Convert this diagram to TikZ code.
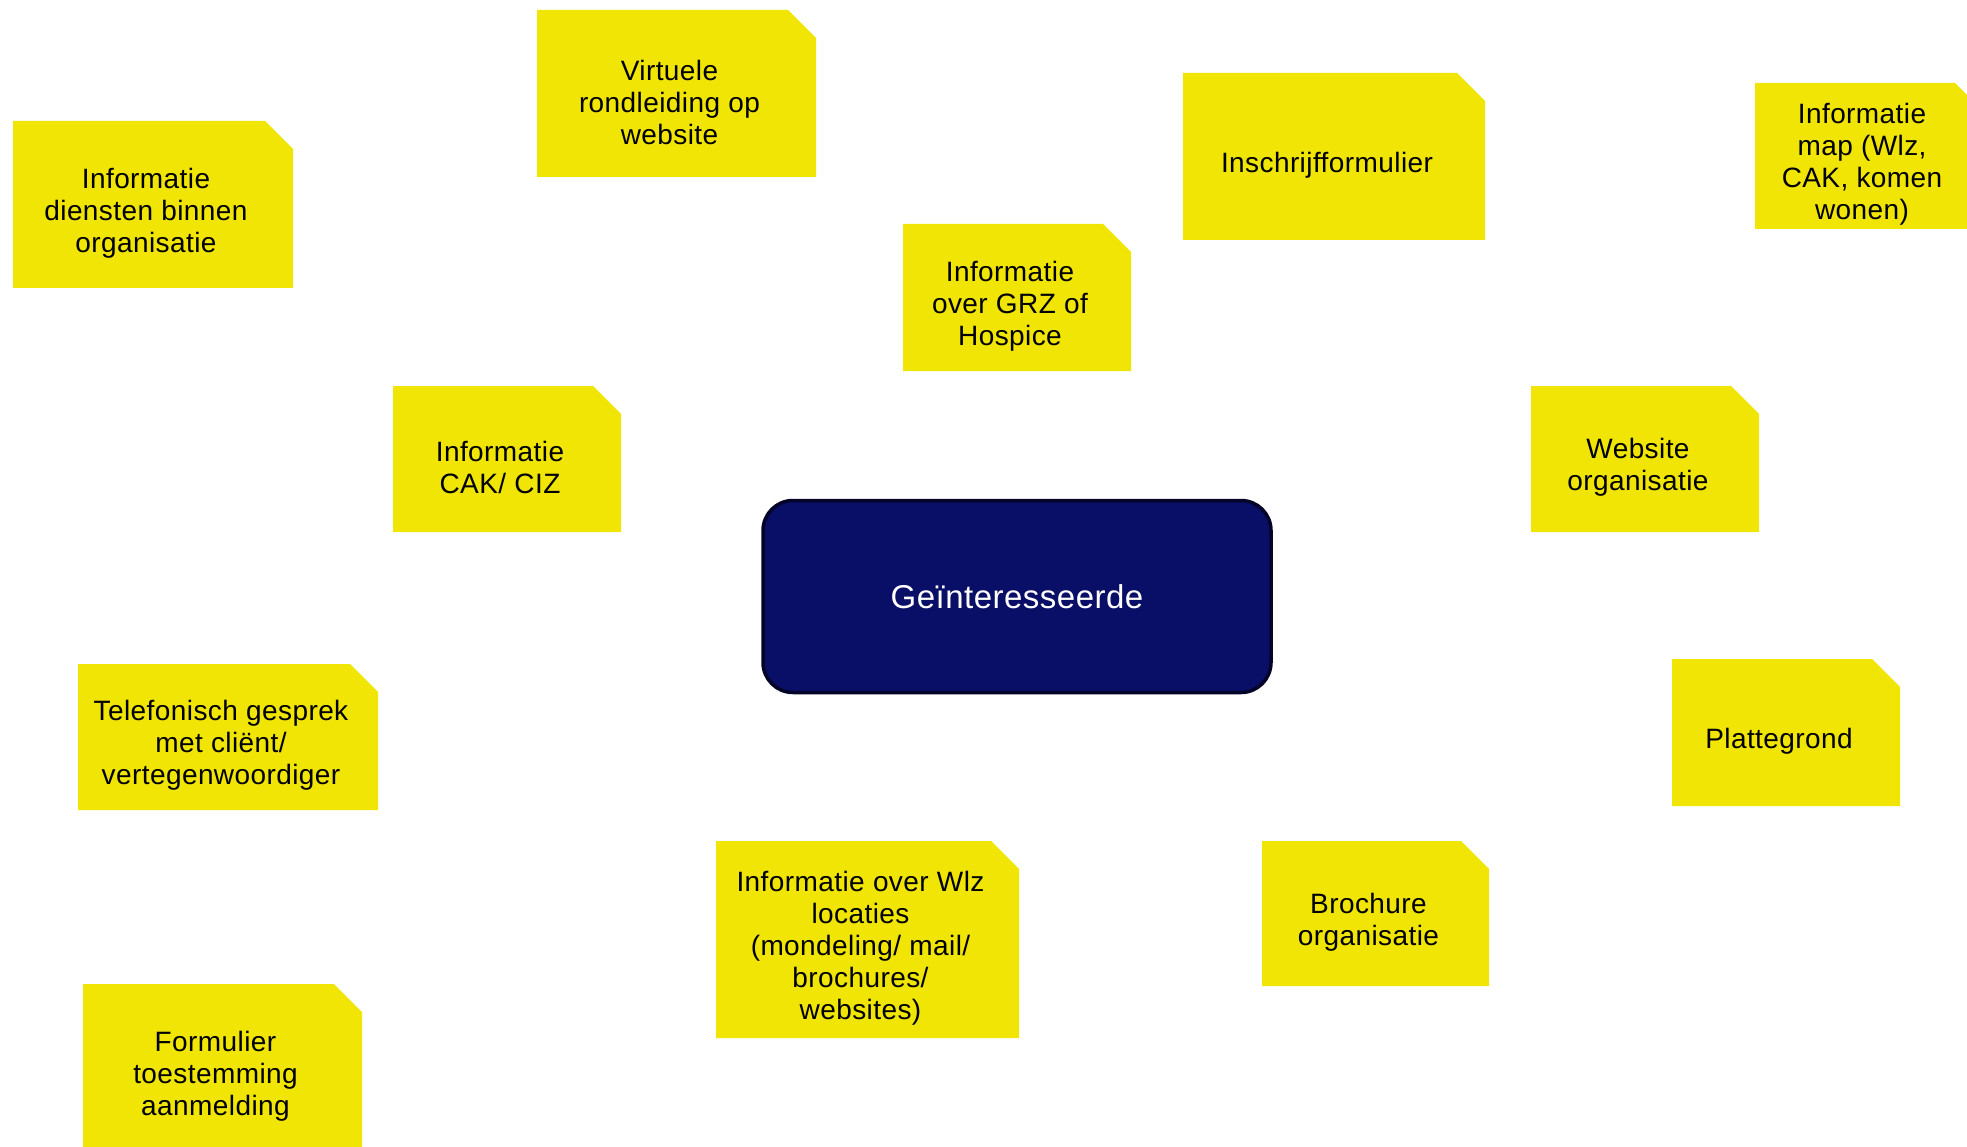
\documentclass[tikz,border=0pt]{standalone}
\usepackage{fontspec}
\setmainfont{Liberation Sans}[LetterSpace=1.5]
\definecolor{yel}{RGB}{240,229,5}
\definecolor{navy}{RGB}{9,14,102}
\definecolor{navyline}{RGB}{4,4,40}
\begin{document}
\begin{tikzpicture}[x=1pt,y=-1pt,
  card/.style 2 args={rectangle, inner sep=0pt,
    minimum width=#1pt, minimum height=#2pt,
    path picture={\fill[yel] (path picture bounding box.south west)
      -- (path picture bounding box.north west)
      -- ([xshift=-28pt]path picture bounding box.north east)
      -- ([yshift=-28pt]path picture bounding box.north east)
      -- (path picture bounding box.south east) -- cycle;}},
  cardtext/.style={align=center, inner sep=0pt, text=black,
    font=\fontsize{28}{32}\selectfont, xshift=-7pt, yshift=-8.5pt},
  hub/.style={rectangle, rounded corners=30pt, fill=navy, draw=navyline,
    line width=3.5pt, text=white, font=\fontsize{33}{38}\selectfont,
    minimum width=508pt, minimum height=192pt}]
\useasboundingbox (0,0) rectangle (1967,1147);
\clip (0,0) rectangle (1967,1147);

\node[hub] (g) at (1017,596.5) {Geïnteresseerde};

\node[card={280}{167}, label={[cardtext]center:{Informatie\\diensten binnen\\organisatie}}]
  (diensten) at (153,204.5) {};
\node[card={279}{167}, label={[cardtext]center:{Virtuele\\rondleiding op\\website}}]
  (virtueel) at (676.5,93.5) {};
\node[card={302}{167}, label={[cardtext]center:{Inschrijfformulier}}]
  (inschrijf) at (1334,156.5) {};
\node[card={228}{146}, label={[cardtext]center:{Informatie\\map (Wlz,\\CAK, komen\\wonen)}}]
  (map) at (1869,156) {};
\node[card={228}{147}, label={[cardtext]center:{Informatie\\over GRZ of\\Hospice}}]
  (grz) at (1017,297.5) {};
\node[card={228}{146}, label={[cardtext]center:{Informatie\\CAK/ CIZ}}]
  (cak) at (507,459) {};
\node[card={228}{146}, label={[cardtext]center:{Website\\organisatie}}]
  (website) at (1645,459) {};
\node[card={300}{146}, label={[cardtext]center:{Telefonisch gesprek\\met cliënt/\\vertegenwoordiger}}]
  (telefoon) at (228,737) {};
\node[card={228}{147}, label={[cardtext]center:{Plattegrond}}]
  (platte) at (1786,732.5) {};
\node[card={303}{197}, label={[cardtext]center:{Informatie over Wlz\\locaties\\(mondeling/ mail/\\brochures/\\websites)}}]
  (wlz) at (867.5,939.5) {};
\node[card={227}{145}, label={[cardtext]center:{Brochure\\organisatie}}]
  (brochure) at (1375.5,913.5) {};
\node[card={279}{167}, label={[cardtext]center:{Formulier\\toestemming\\aanmelding}}]
  (formulier) at (222.5,1067.5) {};
\end{tikzpicture}
\end{document}
